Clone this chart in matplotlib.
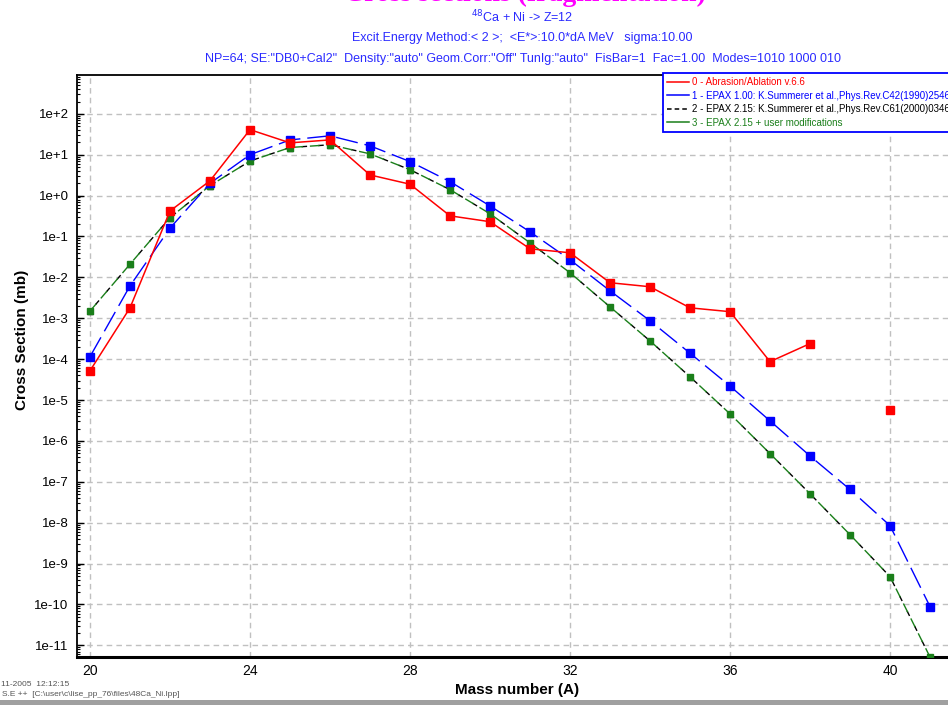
import math
import matplotlib
matplotlib.use("Agg")
import matplotlib.pyplot as plt
from matplotlib.ticker import FixedLocator, FuncFormatter, LogLocator, NullFormatter
from matplotlib.patches import Rectangle

plt.rcParams['font.family'] = ['Liberation Sans', 'DejaVu Sans']

# Mass numbers and cross sections (mb) for Z=12 fragments
mass_red = [20, 21, 22, 23, 24, 25, 26, 27, 28, 29, 30, 31, 32, 33, 34, 35, 36, 37, 38]
xs_abrasion = [5.2e-5, 1.8e-3, 0.42, 2.3, 41, 19.5, 23, 3.2, 1.9, 0.32, 0.23, 0.05,
               0.04, 7.4e-3, 5.9e-3, 1.8e-3, 1.45e-3, 8.7e-5, 2.4e-4]
mass_red_single = [40]
xs_abrasion_single = [5.7e-6]

mass_epax = [20, 21, 22, 23, 24, 25, 26, 27, 28, 29, 30, 31, 32, 33, 34, 35, 36, 37, 38, 39, 40, 41]
xs_epax100 = [1.15e-4, 6.2e-3, 0.16, 2.0, 10, 23, 29, 16.5, 6.8, 2.2, 0.56, 0.13, 0.027,
              4.7e-3, 8.7e-4, 1.4e-4, 2.2e-5, 3.1e-6, 4.3e-7, 6.5e-8, 8.5e-9, 8.9e-11]
xs_epax215 = [1.5e-3, 0.021, 0.29, 1.75, 7, 15, 17.5, 10.5, 4.3, 1.4, 0.36, 0.07, 0.013,
              1.9e-3, 2.8e-4, 3.7e-5, 4.6e-6, 4.9e-7, 5.1e-8, 5.1e-9, 4.8e-10, 5.2e-12]
xs_epax215_user = [1.5e-3, 0.021, 0.29, 1.75, 7, 15, 17.5, 10.5, 4.3, 1.4, 0.36, 0.07, 0.013,
                   1.9e-3, 2.8e-4, 3.7e-5, 4.6e-6, 4.9e-7, 5.1e-8, 5.1e-9, 4.8e-10, 5.2e-12]

legend_labels = [
    "0 - Abrasion/Ablation v.6.6",
    "1 - EPAX 1.00: K.Summerer et al.,Phys.Rev.C42(1990)2546",
    "2 - EPAX 2.15: K.Summerer et al.,Phys.Rev.C61(2000)034607",
    "3 - EPAX 2.15 + user modifications",
]
x_ticks = [20, 24, 28, 32, 36, 40]
y_decades = list(range(-11, 3))

W, H = 948, 705
fig = plt.figure(figsize=(W / 100, H / 100), dpi=100)
fig.patch.set_facecolor('white')

ax = fig.add_axes([77 / W, (H - 657) / H, (960 - 77) / W, (657 - 75) / H])
ax.set_yscale('log')
ax.set_xlim(19.675, 41.75)
ax.set_ylim(5.2e-12, 8.9e2)

red = '#ff0000'
blue = '#0000ff'
green = '#1a7f1a'

ax.plot(mass_red, xs_abrasion, color=red, lw=1.1, marker='s', ms=5.5,
        mec=red, mfc=red, zorder=5)
ax.plot(mass_red_single, xs_abrasion_single, color=red, lw=0, marker='s', ms=5.5,
        mec=red, mfc=red, zorder=5)
ax.plot(mass_epax, xs_epax100, color=blue, lw=1.0, ls=(0, (16, 5)), marker='s', ms=5.5,
        mec=blue, mfc=blue, zorder=4)
# EPAX 2.15 (black) and its modified version (green) interleave their dashes
ax.plot(mass_epax, xs_epax215, color='black', lw=1.0, ls=(6, (4, 8)), marker='^', ms=5,
        mec='black', mfc='black', zorder=3)
ax.plot(mass_epax, xs_epax215_user, color=green, lw=1.0, ls=(0, (7, 5)), marker='s', ms=5,
        mec=green, mfc=green, zorder=3.5)

# grid and ticks
ax.xaxis.set_major_locator(FixedLocator(x_ticks))
ax.yaxis.set_major_locator(FixedLocator([10.0 ** d for d in y_decades]))
ax.yaxis.set_minor_locator(LogLocator(base=10, subs=range(2, 10), numticks=40))
ax.yaxis.set_minor_formatter(NullFormatter())
ax.yaxis.set_major_formatter(FuncFormatter(lambda v, p: "1e%+d" % round(math.log10(v))))
ax.grid(True, which='major', color='#c0c0c0', lw=1.0, ls=(0, (4, 3)))
ax.tick_params(axis='y', which='major', direction='in', length=5, width=1, labelsize=9.5, pad=6)
ax.tick_params(axis='y', which='minor', direction='in', length=2.5, width=0.8)
ax.tick_params(axis='x', which='major', direction='in', length=0, labelsize=10, pad=5)
for s in ['left', 'top']:
    ax.spines[s].set_linewidth(1.3)
ax.spines['bottom'].set_linewidth(2.2)
ax.spines['right'].set_visible(False)

ax.set_ylabel("Cross Section (mb)", fontsize=11, fontweight='bold')
ax.set_xlabel("Mass number (A)", fontsize=11, fontweight='bold')
ax_w, ax_h = 960 - 77, 657 - 75
ax.yaxis.set_label_coords(-(77 - 22) / ax_w, (657 - 340) / ax_h)
ax.xaxis.set_label_coords((517 - 77) / ax_w, -(690 - 657) / ax_h)
ax.xaxis.label.set_va('center')
ax.yaxis.label.set_va('center')

# legend box
leg_handles = [
    plt.Line2D([], [], color=red, lw=1.1),
    plt.Line2D([], [], color=blue, lw=1.1),
    plt.Line2D([], [], color='black', lw=1.1, dashes=(3, 2)),
    plt.Line2D([], [], color=green, lw=1.1),
]
leg = fig.legend(leg_handles, legend_labels, loc='upper left',
                 bbox_to_anchor=(663 / W, (H - 73) / H), fontsize=7,
                 frameon=True, fancybox=False, borderpad=0.45, labelspacing=0.35,
                 handlelength=2.2, handletextpad=0.3, borderaxespad=0)
leg.get_frame().set_edgecolor(blue)
leg.get_frame().set_linewidth(1.3)
leg.get_frame().set_alpha(1)
for txt, c in zip(leg.get_texts(), [red, blue, 'black', green]):
    txt.set_color(c)

# header texts
fig.text(525 / W, 1 - 1 / H, "Cross sections (fragmentation)", ha='center', va='baseline',
         fontsize=20, fontweight='bold', family='Liberation Serif', color='#ff00ff')
fig.text(522 / W, 1 - 17 / H, r"$^{48}$Ca + Ni -> Z=12", ha='center', va='center',
         fontsize=9, color='#2a2aff')
fig.text(522 / W, 1 - 38 / H, "Excit.Energy Method:< 2 >;  <E*>:10.0*dA MeV   sigma:10.00",
         ha='center', va='center', fontsize=9, color='#2a2aff')
fig.text(523 / W, 1 - 59 / H,
         'NP=64; SE:"DB0+Cal2"  Density:"auto" Geom.Corr:"Off" TunIg:"auto"  FisBar=1  Fac=1.00  Modes=1010 1000 010',
         ha='center', va='center', fontsize=9, color='#2a2aff')

# footer
fig.text(1 / W, 1 - 685 / H, "11-2005  12:12:15", ha='left', va='center', fontsize=6, color='#555555')
fig.text(2 / W, 1 - 695 / H, r"S.E ++  [C:\user\c\lise_pp_76\files\48Ca_Ni.lpp]", ha='left',
         va='center', fontsize=6, color='#555555')
fig.patches.append(Rectangle((0, 0), 1, 5 / H, transform=fig.transFigure,
                             facecolor='#a0a0a0', edgecolor='none', zorder=10))

fig.savefig("out.png", dpi=100)
